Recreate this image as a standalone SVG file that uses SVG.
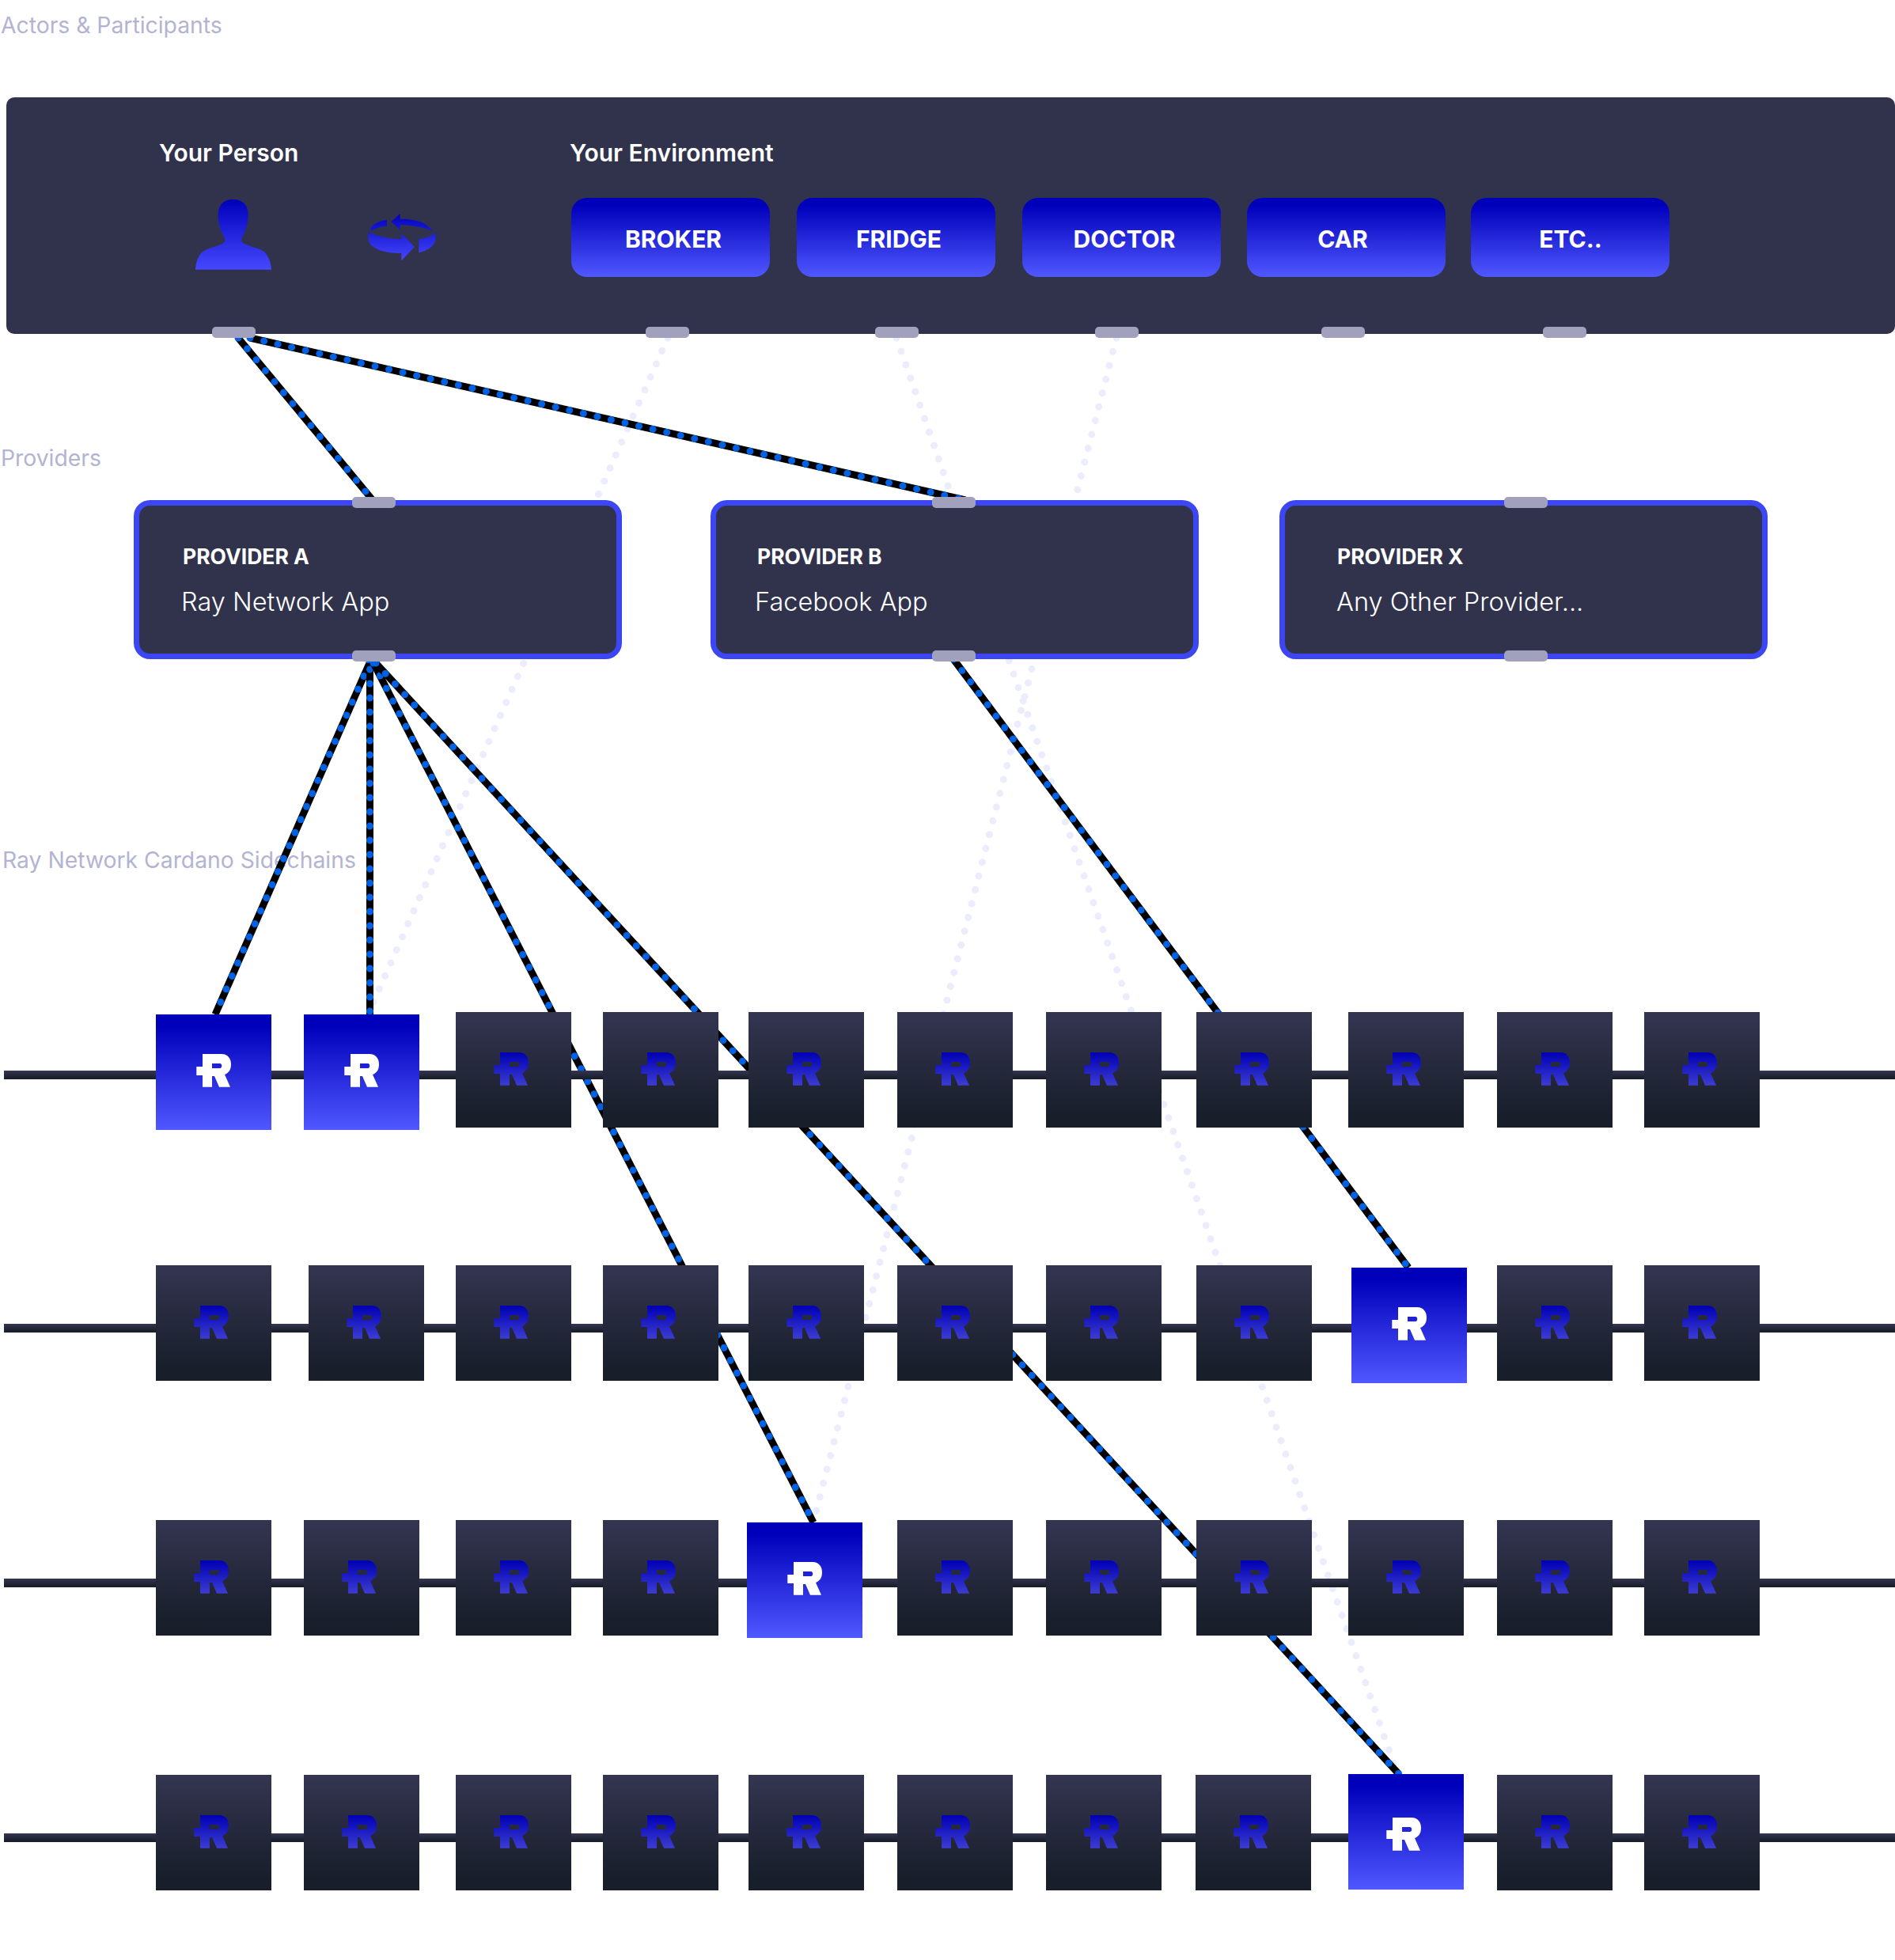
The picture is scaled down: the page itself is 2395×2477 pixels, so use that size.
<svg xmlns="http://www.w3.org/2000/svg" width="2395" height="2477" viewBox="0 0 2395 2477">
<style>
text{font-family:Inter,"Noto Sans","Liberation Sans",sans-serif}
.sec{font-size:28.300px;fill:#b3b4d2;font-weight:400}
.hd{font-size:30px;fill:#fff;font-weight:600}
.btn{font-size:30px;fill:#fff;font-weight:700;text-anchor:middle}
.pt{font-size:26.500px;fill:#fff;font-weight:700}
.ps{font-size:32.500px;fill:#fff;font-weight:300}
.port{fill:#a1a1bd}
.prov{fill:#31334d;stroke:#3c46f5;stroke-width:7}
.chain{fill:url(#gDark)}
.wire{stroke:#000;stroke-width:9;fill:none}
.dots{stroke:#0062e3;stroke-width:9;stroke-dasharray:0 18;stroke-linecap:round;fill:none}
.faint{stroke:#ebedfc;stroke-width:9;stroke-dasharray:0 18;stroke-linecap:round;fill:none}
</style>
<defs>
<linearGradient id="gBlue" x1="0" y1="0" x2="0" y2="1"><stop offset="0.1" stop-color="#0000bb"/><stop offset="1" stop-color="#5058ff"/></linearGradient>
<linearGradient id="gIcon" x1="0" y1="0" x2="0" y2="1"><stop offset="0" stop-color="#0000bb"/><stop offset="1" stop-color="#4648ff"/></linearGradient>
<linearGradient id="gMark" x1="0" y1="0" x2="0" y2="1"><stop offset="0" stop-color="#0000b4"/><stop offset="1" stop-color="#3c3cd2"/></linearGradient>
<linearGradient id="gDark" x1="0" y1="0" x2="0" y2="1"><stop offset="0.05" stop-color="#33344f"/><stop offset="0.9" stop-color="#181e2a"/></linearGradient>
<path id="rMark" fill-rule="evenodd" d="M59 50H83C91 50 95 56 95 63C95 70 92 74 87 76L94 91.7H80L74 78H71V91.7H59V77H51.3V66H59ZM71 62V68H81C84 68 84 62 81 62Z"/>
<g id="darkNode"><rect width="146" height="146" fill="url(#gDark)"/><use href="#rMark" x="-3" y="1" fill="url(#gMark)"/></g>
<g id="blueNode"><rect width="146" height="146" fill="url(#gBlue)"/><use href="#rMark" fill="#fff"/></g>
</defs>
<rect width="2395" height="2477" fill="#fff"/>
<text class="sec" x="1" y="42">Actors &amp; Participants</text>
<text class="sec" x="1" y="589">Providers</text>
<text class="sec" x="3" y="1097">Ray Network Cardano Sidechains</text>
<g id="actors">
<rect x="8" y="123" width="2387" height="299" rx="10" fill="#31334d"/>
<text class="hd" x="201" y="204">Your Person</text>
<text class="hd" x="720" y="204">Your Environment</text>
<g id="person-icon" transform="translate(220 240) scale(0.3333)"><path fill="url(#gIcon)" d="M81 302C83 270 95 240 115 230C140 215 180 212 192 197C193 190 193 185 190 180C175 150 167 125 167 95C167 55 190 36 223 36C258 36 281 55 281 95C281 125 272 155 258 180C255 186 255 192 258 197C270 212 310 215 335 230C355 243 367 270 369 302Z"/></g>
<g id="sync-icon" transform="translate(220 240) scale(0.3333)"><path fill="url(#gIcon)" d="M823 121L857 90V110C900 110 960 118 980 158C960 145 900 133 857 133V153ZM807 113V137C775 140 755 148 750 158L745 148C750 130 775 118 807 113ZM736 160C770 178 820 185 862 187V166L912 216L862 268V240C800 240 736 225 736 180ZM928 187C960 182 985 172 992 160V190C985 215 960 232 928 238Z"/></g>
<g id="btn-broker"><rect x="722" y="250" width="251" height="100" rx="20" fill="url(#gBlue)"/><text class="btn" x="851" y="313">BROKER</text></g>
<g id="btn-fridge"><rect x="1007" y="250" width="251" height="100" rx="20" fill="url(#gBlue)"/><text class="btn" x="1136" y="313">FRIDGE</text></g>
<g id="btn-doctor"><rect x="1292" y="250" width="251" height="100" rx="20" fill="url(#gBlue)"/><text class="btn" x="1421" y="313">DOCTOR</text></g>
<g id="btn-car"><rect x="1576" y="250" width="251" height="100" rx="20" fill="url(#gBlue)"/><text class="btn" x="1697" y="313">CAR</text></g>
<g id="btn-etc"><rect x="1859" y="250" width="251" height="100" rx="20" fill="url(#gBlue)"/><text class="btn" x="1985" y="313">ETC..</text></g>
</g>
<g id="connectors">
<line class="faint" x1="844" y1="427" x2="465" y2="1282"/>
<line class="faint" x1="1133" y1="427" x2="1766" y2="2242"/>
<line class="faint" x1="1411" y1="427" x2="1028" y2="1924"/>
<g id="c-person-a"><line class="wire" x1="301" y1="427" x2="471" y2="632"/><line class="dots" x1="301" y1="427" x2="471" y2="632"/></g>
<g id="c-person-b"><line class="wire" x1="316" y1="427" x2="1220" y2="632"/><line class="dots" x1="316" y1="427" x2="1220" y2="632"/></g>
<g id="c-a-1"><line class="wire" x1="467" y1="838" x2="272" y2="1282"/><line class="dots" x1="467" y1="838" x2="272" y2="1282"/></g>
<g id="c-a-2"><line class="wire" x1="467.500" y1="838" x2="467.500" y2="1282"/><line class="dots" x1="467.500" y1="846" x2="467.500" y2="1282"/></g>
<g id="c-a-3"><line class="wire" x1="472" y1="838" x2="1028" y2="1924"/><line class="dots" x1="472" y1="838" x2="1028" y2="1924"/></g>
<g id="c-a-4"><line class="wire" x1="475" y1="838" x2="1768" y2="2242"/><line class="dots" x1="475" y1="838" x2="1768" y2="2242"/></g>
<g id="c-b-1"><line class="wire" x1="1205" y1="833" x2="1780" y2="1602"/><line class="dots" x1="1205" y1="833" x2="1780" y2="1602"/></g>
</g>
<g id="chains">
<rect class="chain" x="5" y="1353" width="2390" height="11"/>
<rect class="chain" x="5" y="1673" width="2390" height="11"/>
<rect class="chain" x="5" y="1995" width="2390" height="11"/>
<rect class="chain" x="5" y="2317" width="2390" height="11"/>
</g>
<g id="provider-a"><rect class="prov" x="172.500" y="635.500" width="610" height="194" rx="17"/><text class="pt" x="231" y="713">PROVIDER A</text><text class="ps" x="229" y="772">Ray Network App</text></g>
<g id="provider-b"><rect class="prov" x="901.500" y="635.500" width="610" height="194" rx="17"/><text class="pt" x="957" y="713">PROVIDER B</text><text class="ps" x="954" y="772">Facebook App</text></g>
<g id="provider-x"><rect class="prov" x="1620.500" y="635.500" width="610" height="194" rx="17"/><text class="pt" x="1690" y="713">PROVIDER X</text><text class="ps" x="1689" y="772">Any Other Provider...</text></g>
<g id="ports">
<rect class="port" x="268" y="413" width="55" height="14" rx="5"/>
<rect class="port" x="816" y="413" width="55" height="14" rx="5"/>
<rect class="port" x="1106" y="413" width="55" height="14" rx="5"/>
<rect class="port" x="1384" y="413" width="55" height="14" rx="5"/>
<rect class="port" x="1670" y="413" width="55" height="14" rx="5"/>
<rect class="port" x="1950" y="413" width="55" height="14" rx="5"/>
<rect class="port" x="445" y="628" width="55" height="14" rx="5"/>
<rect class="port" x="445" y="822" width="55" height="14" rx="5"/>
<rect class="port" x="1178" y="628" width="55" height="14" rx="5"/>
<rect class="port" x="1178" y="822" width="55" height="14" rx="5"/>
<rect class="port" x="1901" y="628" width="55" height="14" rx="5"/>
<rect class="port" x="1901" y="822" width="55" height="14" rx="5"/>
</g>
<g id="row-1">
<g id="n1-1" transform="translate(197 1282)"><use href="#blueNode"/></g>
<g id="n1-2" transform="translate(384 1282)"><use href="#blueNode"/></g>
<g id="n1-3" transform="translate(576 1279)"><use href="#darkNode"/></g>
<g id="n1-4" transform="translate(762 1279)"><use href="#darkNode"/></g>
<g id="n1-5" transform="translate(946 1279)"><use href="#darkNode"/></g>
<g id="n1-6" transform="translate(1134 1279)"><use href="#darkNode"/></g>
<g id="n1-7" transform="translate(1322 1279)"><use href="#darkNode"/></g>
<g id="n1-8" transform="translate(1512 1279)"><use href="#darkNode"/></g>
<g id="n1-9" transform="translate(1704 1279)"><use href="#darkNode"/></g>
<g id="n1-10" transform="translate(1892 1279)"><use href="#darkNode"/></g>
<g id="n1-11" transform="translate(2078 1279)"><use href="#darkNode"/></g>
</g>
<g id="row-2">
<g id="n2-1" transform="translate(197 1599)"><use href="#darkNode"/></g>
<g id="n2-2" transform="translate(390 1599)"><use href="#darkNode"/></g>
<g id="n2-3" transform="translate(576 1599)"><use href="#darkNode"/></g>
<g id="n2-4" transform="translate(762 1599)"><use href="#darkNode"/></g>
<g id="n2-5" transform="translate(946 1599)"><use href="#darkNode"/></g>
<g id="n2-6" transform="translate(1134 1599)"><use href="#darkNode"/></g>
<g id="n2-7" transform="translate(1322 1599)"><use href="#darkNode"/></g>
<g id="n2-8" transform="translate(1512 1599)"><use href="#darkNode"/></g>
<g id="n2-9" transform="translate(1708 1602)"><use href="#blueNode"/></g>
<g id="n2-10" transform="translate(1892 1599)"><use href="#darkNode"/></g>
<g id="n2-11" transform="translate(2078 1599)"><use href="#darkNode"/></g>
</g>
<g id="row-3">
<g id="n3-1" transform="translate(197 1921)"><use href="#darkNode"/></g>
<g id="n3-2" transform="translate(384 1921)"><use href="#darkNode"/></g>
<g id="n3-3" transform="translate(576 1921)"><use href="#darkNode"/></g>
<g id="n3-4" transform="translate(762 1921)"><use href="#darkNode"/></g>
<g id="n3-5" transform="translate(944 1924)"><use href="#blueNode"/></g>
<g id="n3-6" transform="translate(1134 1921)"><use href="#darkNode"/></g>
<g id="n3-7" transform="translate(1322 1921)"><use href="#darkNode"/></g>
<g id="n3-8" transform="translate(1512 1921)"><use href="#darkNode"/></g>
<g id="n3-9" transform="translate(1704 1921)"><use href="#darkNode"/></g>
<g id="n3-10" transform="translate(1892 1921)"><use href="#darkNode"/></g>
<g id="n3-11" transform="translate(2078 1921)"><use href="#darkNode"/></g>
</g>
<g id="row-4">
<g id="n4-1" transform="translate(197 2243)"><use href="#darkNode"/></g>
<g id="n4-2" transform="translate(384 2243)"><use href="#darkNode"/></g>
<g id="n4-3" transform="translate(576 2243)"><use href="#darkNode"/></g>
<g id="n4-4" transform="translate(762 2243)"><use href="#darkNode"/></g>
<g id="n4-5" transform="translate(946 2243)"><use href="#darkNode"/></g>
<g id="n4-6" transform="translate(1134 2243)"><use href="#darkNode"/></g>
<g id="n4-7" transform="translate(1322 2243)"><use href="#darkNode"/></g>
<g id="n4-8" transform="translate(1511 2243)"><use href="#darkNode"/></g>
<g id="n4-9" transform="translate(1704 2242)"><rect width="146" height="146" fill="url(#gBlue)"/><use href="#rMark" x="-3" y="5" fill="#fff"/></g>
<g id="n4-10" transform="translate(1892 2243)"><use href="#darkNode"/></g>
<g id="n4-11" transform="translate(2078 2243)"><use href="#darkNode"/></g>
</g>
</svg>
